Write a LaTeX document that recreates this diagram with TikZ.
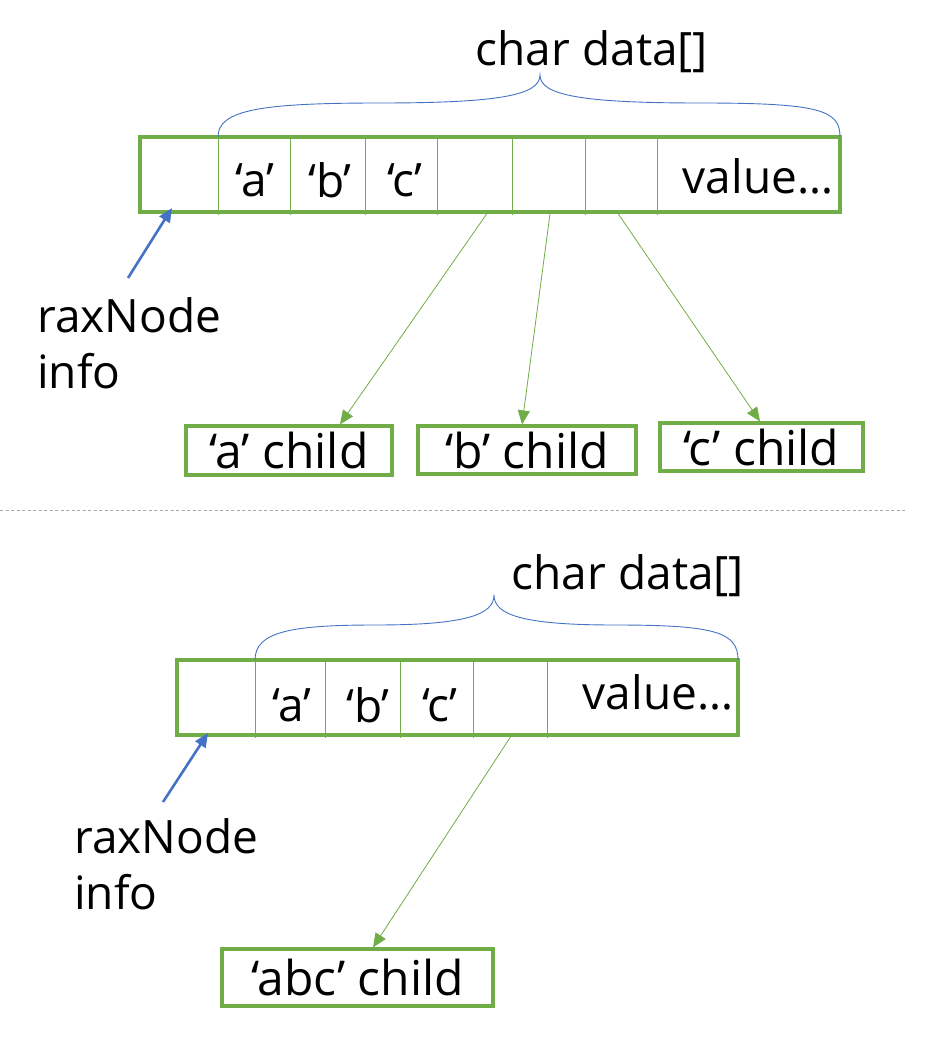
\documentclass[tikz,border=0pt]{standalone}
\usepackage{fontspec}
\setmainfont{Open Sans}
\usetikzlibrary{arrows.meta}
\definecolor{grn}{HTML}{70AD47}
\definecolor{blu}{HTML}{4472C4}
\begin{document}
\begin{tikzpicture}[x=1pt,y=-1pt,
  big/.style={font=\fontsize{46}{56}\selectfont, inner sep=0pt},
  childbox/.style={draw=grn, line width=3.2pt, inner sep=0pt, font=\fontsize{48}{56}\selectfont},
  cellline/.style={draw=grn, line width=0.8pt},
  outer/.style={draw=grn, line width=3.5pt},
  brace/.style={draw=blu, line width=0.9pt},
  garrow/.style={draw=grn, line width=0.8pt, -{Triangle[length=14pt,width=12pt]}},
  barrow/.style={draw=blu, line width=2.6pt, -{Triangle[length=14pt,width=12pt]}}]
\useasboundingbox (0,0) rectangle (940,1064);
% ---------- top ----------
\node[outer, minimum width=700pt, minimum height=75pt, inner sep=0pt] (rect1) at (490,174.5) {};
\foreach \x in {218,290,365,437,512,585,657} \draw[cellline] (\x,137) -- (\x,215);
\node[big] (ta) at (255,180) {‘a’};
\node[big] (tb) at (330,180) {‘b’};
\node[big] (tc) at (405,180) {‘c’};
\node[big] (tv) at (758,176) {value…};
\node[big] (td1) at (592,52) {char data[]};
\draw[brace] (218,137) .. controls (218,110) and (260,103) .. (380,103)
  .. controls (500,103) and (540,95) .. (540,75)
  .. controls (540,95) and (580,103) .. (700,103)
  .. controls (820,103) and (840,110) .. (840,137);
\node[big, align=left, anchor=north west, font=\fontsize{46}{56}\selectfont] (info1) at (37,297) {raxNode\\info};
\coordinate (b1s) at (128,278);
\coordinate (b1e) at (172,208);
\draw[barrow] (b1s) -- (b1e);
\node[childbox, minimum width=206pt, minimum height=49pt] (ca) at (289,450.5) {‘a’ child};
\node[childbox, minimum width=218pt, minimum height=48pt] (cb) at (527,450) {‘b’ child};
\node[childbox, minimum width=203pt, minimum height=48pt] (cc) at (761.5,447) {‘c’ child};
\coordinate (s1) at (488,212);
\coordinate (s2) at (550,214);
\coordinate (s3) at (617,212);
\draw[garrow] (s1) -- (ca.north -| 340,0);
\draw[garrow] (s2) -- (cb.north -| 522,0);
\draw[garrow] (s3) -- (cc.north -| 760,0);
% ---------- separator ----------
\coordinate (d0) at (0,510);
\coordinate (d1) at (906,510);
\draw[gray!70, line width=0.8pt, dash pattern=on 3pt off 2.5pt] (d0) -- (d1);
% ---------- bottom ----------
\node[outer, minimum width=561pt, minimum height=75pt, inner sep=0pt] (rect2) at (457.5,697.5) {};
\foreach \x in {255,325,400,473,547} \draw[cellline] (\x,660) -- (\x,738);
\node[big] (ba) at (292,705) {‘a’};
\node[big] (bb) at (368,705) {‘b’};
\node[big] (bc) at (440,705) {‘c’};
\node[big] (bv) at (658,692) {value…};
\node[big] (td2) at (628,576) {char data[]};
\draw[brace] (255,660) .. controls (255,632) and (290,625) .. (375,625)
  .. controls (465,625) and (494,615) .. (494,595)
  .. controls (494,615) and (523,625) .. (615,625)
  .. controls (715,625) and (738,632) .. (738,660);
\node[big, align=left, anchor=north west, font=\fontsize{46}{56}\selectfont] (info2) at (74,818) {raxNode\\info};
\coordinate (b2s) at (163,802);
\coordinate (b2e) at (208,733);
\draw[barrow] (b2s) -- (b2e);
\node[childbox, minimum width=271pt, minimum height=57pt] (cabc) at (357.5,977.5) {‘abc’ child};
\coordinate (s4) at (513,733);
\draw[garrow] (s4) -- (cabc.north -| 373,0);
\end{tikzpicture}
\end{document}
